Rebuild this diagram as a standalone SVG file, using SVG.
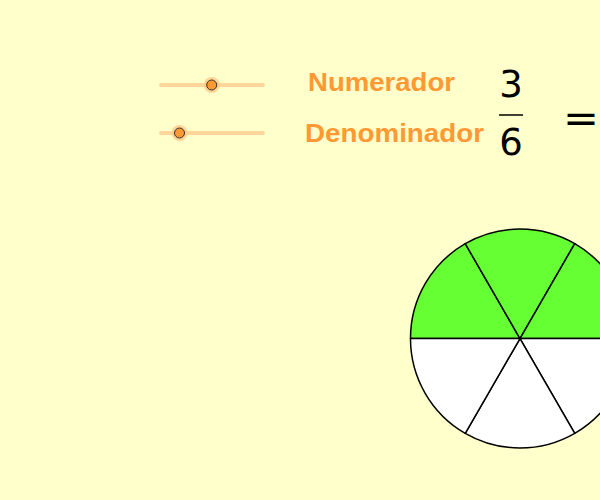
<svg xmlns="http://www.w3.org/2000/svg" width="600" height="500" viewBox="0 0 600 500">
  <style>
    .track { stroke: #FFD699; stroke-width: 4; stroke-linecap: round; }
    .halo { fill: #FFCC88; opacity: 0.8; }
    .knob { fill: #FF9933; stroke: #333333; stroke-width: 1; }
    .label { font-family: "Liberation Sans", Arial, sans-serif; font-weight: bold; font-size: 25.5px; fill: #FF9933; }
    .math { font-family: "DejaVu Sans", "Liberation Sans", sans-serif; font-size: 37px; fill: #000000; }
    .sector { stroke: #000000; stroke-width: 1.5; stroke-linejoin: round; }
    .on { fill: #66FF33; }
    .off { fill: #FFFFFF; }
  </style>
  <rect x="0" y="0" width="600" height="500" fill="#FFFFCC"/>

  <g id="slider-numerador">
    <line class="track" x1="161" y1="85" x2="263" y2="85"/>
    <circle class="halo" cx="211.7" cy="85" r="8"/>
    <circle class="knob" cx="211.7" cy="85" r="5"/>
  </g>
  <g id="slider-denominador">
    <line class="track" x1="161" y1="133" x2="263" y2="133"/>
    <circle class="halo" cx="179.5" cy="133" r="8"/>
    <circle class="knob" cx="179.5" cy="133" r="5"/>
  </g>

  <g id="label-numerador">
    <text class="label" x="308" y="91" textLength="147" lengthAdjust="spacingAndGlyphs">Numerador</text>
  </g>
  <g id="label-denominador">
    <text class="label" x="305" y="141.5" textLength="179" lengthAdjust="spacingAndGlyphs">Denominador</text>
  </g>

  <g id="fraction">
    <text class="math" x="511" y="96.5" text-anchor="middle">3</text>
    <line x1="499" y1="115" x2="523" y2="115" stroke="#000000" stroke-width="1.5"/>
    <text class="math" x="511" y="155" text-anchor="middle">6</text>
    <text class="math" x="563" y="132" style="font-size:40px" textLength="36" lengthAdjust="spacingAndGlyphs">=</text>
  </g>

  <g id="circle">
    <path class="sector on" d="M520,338.5 L410.5,338.5 A109.5,109.5 0 0 1 465.25,243.67 Z"/>
    <path class="sector on" d="M520,338.5 L465.25,243.67 A109.5,109.5 0 0 1 574.75,243.67 Z"/>
    <path class="sector on" d="M520,338.5 L574.75,243.67 A109.5,109.5 0 0 1 629.5,338.5 Z"/>
    <path class="sector off" d="M520,338.5 L629.5,338.5 A109.5,109.5 0 0 1 574.75,433.33 Z"/>
    <path class="sector off" d="M520,338.5 L574.75,433.33 A109.5,109.5 0 0 1 465.25,433.33 Z"/>
    <path class="sector off" d="M520,338.5 L465.25,433.33 A109.5,109.5 0 0 1 410.5,338.5 Z"/>
  </g>
</svg>
